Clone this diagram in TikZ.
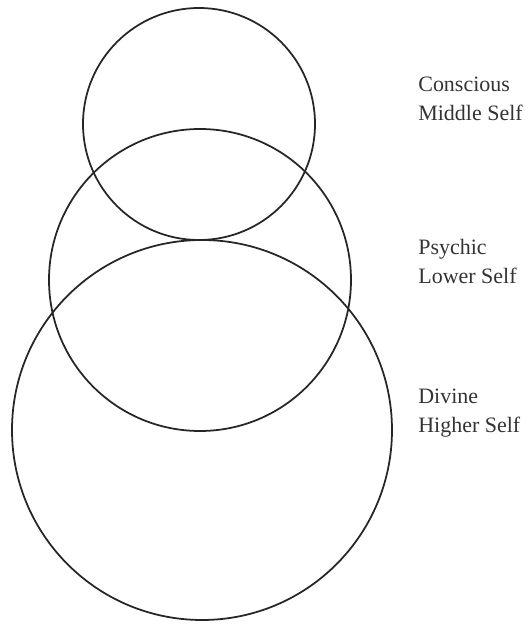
\documentclass[tikz,border=0pt]{standalone}
\usepackage{fontspec}
\setmainfont{Liberation Serif}
\tikzset{
	self/.style={line width=1pt, draw=black!85},
	label/.style={anchor=west, align=left, inner sep=0pt, text=black!80,
		font=\fontsize{12.5}{16.5}\selectfont}
}
\begin{document}
\begin{tikzpicture}
	\useasboundingbox (0, 0) rectangle (10.56, 12.52);
	\draw[self] (3.98, 10.04) circle (2.32);
	\draw[self] (4.00, 6.92) circle (3.02);
	\draw[self] (4.04, 3.92) circle (3.80);
	\node[label] (middle) at (8.36, 10.54) {Conscious\\Middle Self};
	\node[label] (lower) at (8.36, 7.30) {Psychic\\Lower Self};
	\node[label] (higher) at (8.36, 4.26) {Divine\\Higher Self};
\end{tikzpicture}
\end{document}
